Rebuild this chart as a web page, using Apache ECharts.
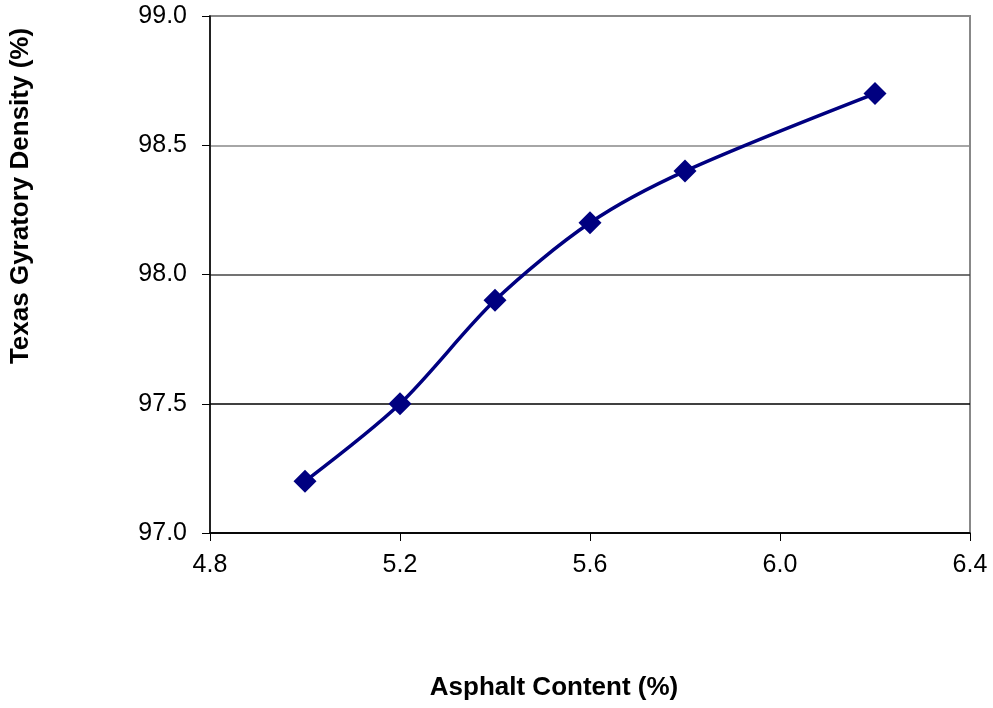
<!DOCTYPE html>
<html><head><meta charset="utf-8">
<script src="https://cdn.jsdelivr.net/npm/echarts@6/dist/echarts.min.js"></script>
<style>html,body{margin:0;padding:0;background:#fff}#c{width:993px;height:708px}</style>
</head><body><div id="c"></div>
<script>
const asphaltContent = [5.0, 5.2, 5.4, 5.6, 5.8, 6.2];
const density = [97.2, 97.5, 97.9, 98.2, 98.4, 98.7];
const xTitle = 'Asphalt Content (%)';
const yTitle = 'Texas Gyratory Density (%)';

const chart = echarts.init(document.getElementById('c'));
const font = 'Liberation Sans, Arial, sans-serif';
chart.setOption({
  animation: false,
  grid: {left: 210, right: 23, top: 16, bottom: 175, show: true, borderColor: '#888', borderWidth: 2, containLabel: false},
  xAxis: {
    type: 'value', min: 4.8, max: 6.4, interval: 0.4,
    axisLine: {show: true, onZero: false, lineStyle: {color: '#000', width: 1.5}},
    axisTick: {show: true, length: 8, lineStyle: {color: '#000'}},
    splitLine: {show: false},
    axisLabel: {color: '#000', fontSize: 25, fontFamily: font, margin: 20, formatter: v => v.toFixed(1)}
  },
  yAxis: {
    type: 'value', min: 97.0, max: 99.0, interval: 0.5,
    axisLine: {show: true, lineStyle: {color: '#000', width: 1.5}},
    axisTick: {show: true, length: 8, lineStyle: {color: '#000'}},
    splitLine: {show: true, lineStyle: {color: ['#000', '#000', '#444', '#888', '#888'], width: 1.5}},
    axisLabel: {color: '#000', fontSize: 25, fontFamily: font, margin: 23, formatter: v => v.toFixed(1)}
  },
  graphic: [
    {type: 'text', position: [554, 688], style: {text: xTitle, fill: '#000', font: 'bold 26px ' + font, textAlign: 'center', textVerticalAlign: 'middle'}},
    {type: 'text', rotation: Math.PI / 2, position: [21, 196], style: {text: yTitle, fill: '#000', font: 'bold 26px ' + font, textAlign: 'center', textVerticalAlign: 'middle'}}
  ],
  series: [{
    type: 'line',
    data: asphaltContent.map((x, i) => [x, density[i]]),
    smooth: 0.3,
    symbol: 'diamond', symbolSize: 23,
    lineStyle: {color: '#000080', width: 3.5},
    itemStyle: {color: '#000080'}
  }]
});
</script></body></html>
